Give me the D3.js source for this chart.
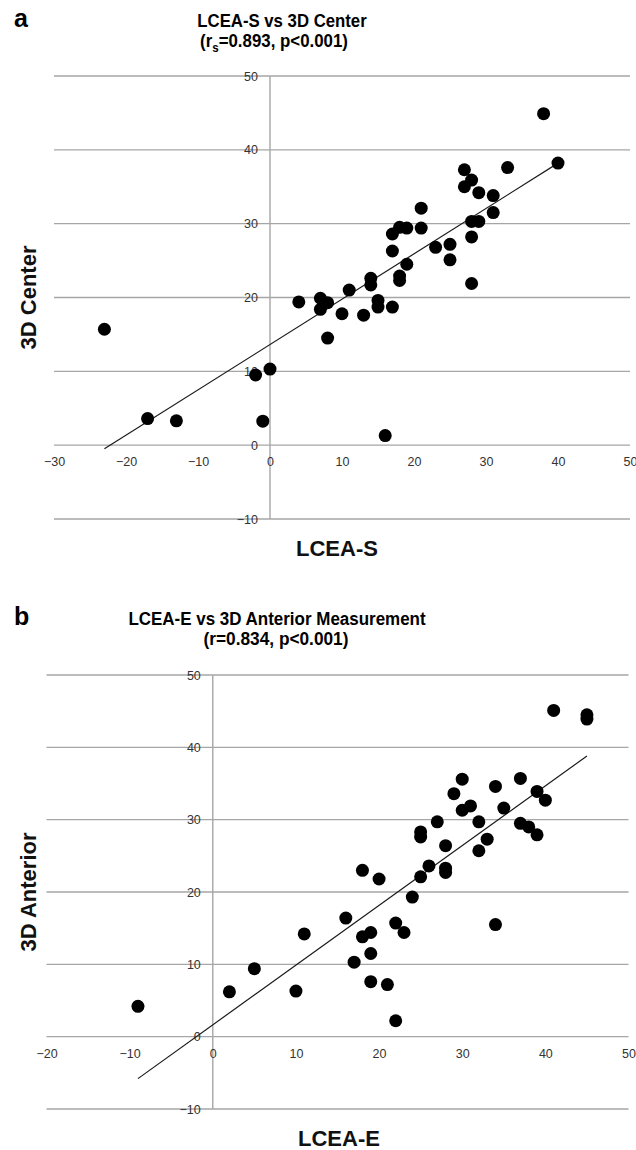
<!DOCTYPE html>
<html><head><meta charset="utf-8">
<script src="https://cdn.jsdelivr.net/npm/d3@7"></script>
<style>
body{margin:0;background:#fff;}
svg{display:block;}
</style></head>
<body>
<svg id="chart" width="636" height="1150"></svg>
<script>
// Panel a data: LCEA-S (x) vs 3D Center (y)
const aX = [-23,-17,-13,-2,0,-1,4,7,7,8,8,10,11,13,14,14,15,15,17,16,18,18,19,17,17,18,19,21,21,23,25,25,28,28,28,29,31,31,29,27,28,27,33,40,38];
const aY = [15.7,3.6,3.3,9.5,10.3,3.25,19.4,19.9,18.4,19.3,14.5,17.8,21.0,17.6,22.6,21.7,19.6,18.7,18.7,1.3,22.9,22.3,24.5,26.3,28.6,29.5,29.4,29.4,32.1,26.8,27.2,25.1,21.9,28.2,30.3,30.3,31.5,33.8,34.2,35.0,35.9,37.3,37.6,38.2,44.9];
const aFit = [[-23,-0.5],[40,38.2]];
const aXTicks = [-30,-20,-10,0,10,20,30,40,50];
const aYTicks = [-10,0,10,20,30,40,50];

// Panel b data: LCEA-E (x) vs 3D Anterior (y)
const bX = [-9,2,5,10,11,16,18,19,19,17,19,21,22,22,23,24,34,18,20,25,26,28,28,28,25,25,27,32,33,32,30,31,29,30,34,35,37,37,38,39,39,40,41,45,45];
const bY = [4.2,6.2,9.4,6.3,14.2,16.4,13.8,14.4,11.5,10.3,7.6,7.2,2.2,15.7,14.4,19.3,15.5,23.0,21.8,22.1,23.6,23.3,22.7,26.4,27.6,28.3,29.7,29.7,27.3,25.7,31.3,31.9,33.6,35.6,34.6,31.6,35.7,29.5,29.0,27.9,33.9,32.7,45.1,44.5,43.9];
const bFit = [[-9,-5.8],[45,38.8]];
const bXTicks = [-20,-10,0,10,20,30,40,50];
const bYTicks = [-10,0,10,20,30,40,50];

const svg = d3.select("#chart");
const gridColor = "#a6a6a6";
const font = "'Liberation Sans', Arial, sans-serif";

// condensed title text: scale horizontally to the target width
function condensed(g, cx, y, width, parts){
  const t = g.append("text").attr("x", 0).attr("y", 0).attr("text-anchor", "middle")
    .attr("font-family", font).attr("font-weight", "bold").attr("font-size", 19).attr("fill", "#000");
  parts.forEach(p=>{
    const ts = t.append("tspan").text(p.t);
    if (p.sub) ts.attr("font-size", 13).attr("dy", 5);
    if (p.after) ts.attr("dy", -5);
  });
  const w = t.node().getBBox().width;
  t.attr("transform", `translate(${cx},${y}) scale(${width / w},1)`);
}

function panel(o){
  const x = d3.scaleLinear().domain(o.xd).range(o.xr);
  const y = d3.scaleLinear().domain(o.yd).range(o.yr);
  const g = svg.append("g");
  // horizontal gridlines
  g.selectAll("line.grid").data(o.yTicks).join("line")
    .attr("x1", x(o.xd[0])).attr("x2", x(o.xd[1]))
    .attr("y1", d=>y(d)).attr("y2", d=>y(d))
    .attr("stroke", gridColor).attr("stroke-width", 1.4);
  // vertical axis at x=0
  g.append("line").attr("x1", x(0)).attr("x2", x(0))
    .attr("y1", y(o.yd[0])).attr("y2", y(o.yd[1]))
    .attr("stroke", gridColor).attr("stroke-width", 1.4);
  // y tick labels
  const ya = g.append("g").attr("transform", `translate(${x(0)},0)`)
    .call(d3.axisLeft(y).tickValues(o.yTicks).tickSize(0).tickPadding(12).tickFormat(d3.format("d")));
  ya.select(".domain").remove();
  ya.selectAll("text").attr("font-family", font).attr("font-size", 12.5).attr("fill", "#333");
  // x tick labels
  const xa = g.append("g").attr("transform", `translate(0,${y(0)})`)
    .call(d3.axisBottom(x).tickValues(o.xTicks).tickSize(0).tickPadding(12).tickFormat(d3.format("d")));
  xa.select(".domain").remove();
  xa.selectAll("text").attr("font-family", font).attr("font-size", 12.5).attr("fill", "#333");
  // trend line
  g.append("path").datum(o.fit)
    .attr("d", d3.line().x(d=>x(d[0])).y(d=>y(d[1])))
    .attr("stroke", "#1a1a1a").attr("stroke-width", 1.2).attr("fill", "none");
  // points
  g.selectAll("circle").data(o.xs.map((v,i)=>[v,o.ys[i]])).join("circle")
    .attr("cx", d=>x(d[0])).attr("cy", d=>y(d[1])).attr("r", 6.5).attr("fill", "#000");
  // panel letter
  g.append("text").attr("x", 14).attr("y", o.titleY).text(o.letter)
    .attr("font-family", font).attr("font-weight", "bold").attr("font-size", 25).attr("fill", "#000");
  // titles
  condensed(g, o.t1x, o.titleY, o.t1w, o.title1);
  condensed(g, o.t2x, o.titleY + 20, o.t2w, o.title2);
  // axis titles
  g.append("text").attr("x", o.xLabelX).attr("y", o.xLabelY).attr("text-anchor", "middle")
    .attr("font-family", font).attr("font-weight", "bold").attr("font-size", 22).attr("fill", "#111")
    .text(o.xLabel);
  g.append("text").attr("transform", `translate(${o.yLabelX},${(y(o.yd[0])+y(o.yd[1]))/2}) rotate(-90)`)
    .attr("text-anchor", "middle")
    .attr("font-family", font).attr("font-weight", "bold").attr("font-size", 22).attr("fill", "#111")
    .text(o.yLabel);
}

panel({xd:[-30,50], xr:[54,630], yd:[-10,50], yr:[519,76],
  xTicks:aXTicks, yTicks:aYTicks, xs:aX, ys:aY, fit:aFit,
  letter:"a", titleY:27, t1x:282, t1w:170, t2x:274, t2w:148,
  title1:[{t:"LCEA-S vs 3D Center"}],
  title2:[{t:"(r"},{t:"s",sub:true},{t:"=0.893, p<0.001)",after:true}],
  xLabel:"LCEA-S", xLabelX:337, xLabelY:556, yLabel:"3D Center", yLabelX:36});

panel({xd:[-20,50], xr:[46.5,628.5], yd:[-10,50], yr:[1109,675],
  xTicks:bXTicks, yTicks:bYTicks, xs:bX, ys:bY, fit:bFit,
  letter:"b", titleY:625, t1x:277, t1w:298, t2x:276, t2w:145,
  title1:[{t:"LCEA-E vs 3D Anterior Measurement"}],
  title2:[{t:"(r=0.834, p<0.001)"}],
  xLabel:"LCEA-E", xLabelX:339, xLabelY:1146, yLabel:"3D Anterior", yLabelX:36});
</script>
</body></html>
